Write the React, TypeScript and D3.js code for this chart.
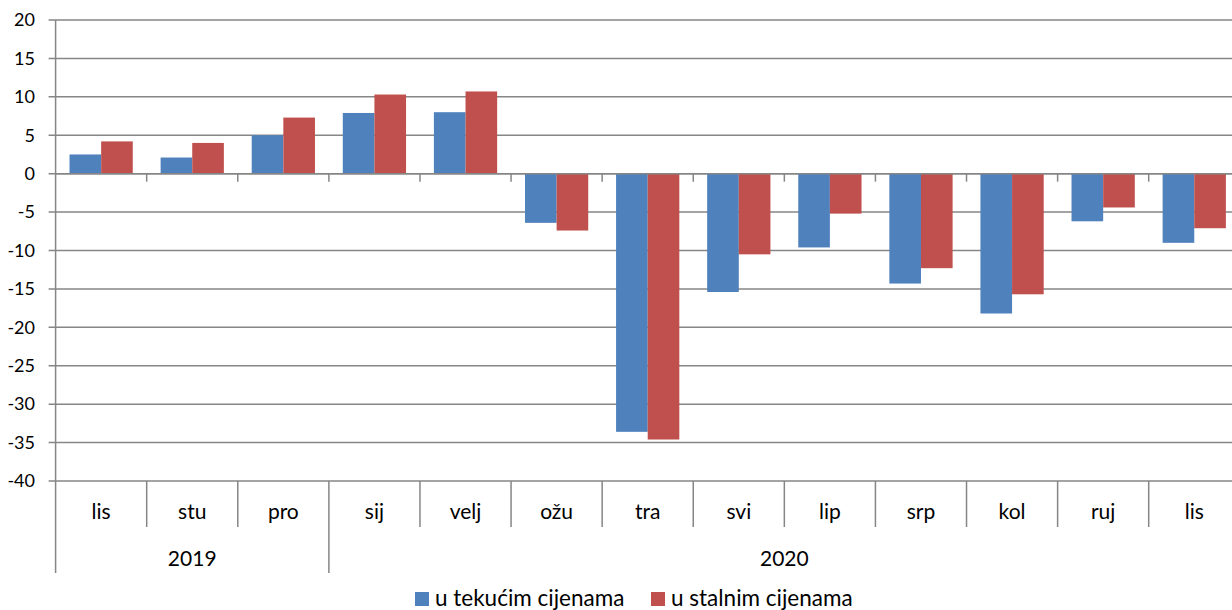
import React from "react";
import * as d3 from "d3";

const months = ["lis", "stu", "pro", "sij", "velj", "ožu", "tra", "svi", "lip", "srp", "kol", "ruj", "lis"];
const years = [
  { label: "2019", start: 0, end: 3 },
  { label: "2020", start: 3, end: 13 },
];
const seriesNames = ["u tekućim cijenama", "u stalnim cijenama"];
const seriesColors = ["#4F81BD", "#C0504D"];
const tekuce = [2.5, 2.1, 5.0, 7.9, 8.0, -6.4, -33.6, -15.4, -9.6, -14.3, -18.2, -6.2, -9.0];
const stalne = [4.2, 4.0, 7.3, 10.3, 10.7, -7.4, -34.6, -10.5, -5.2, -12.3, -15.7, -4.4, -7.1];
const yTicks = [20, 15, 10, 5, 0, -5, -10, -15, -20, -25, -30, -35, -40];

const W = 1232;
const H = 610;
const FONT = "Lato, 'Open Sans', sans-serif";
const GRID = "#868686";

export default function App() {
  const left = 55.6;
  const right = 1239.8;
  const top = 20;
  const bottom = 481;
  const x = d3.scaleBand<number>().domain(d3.range(months.length)).range([left, right]).paddingInner(0).paddingOuter(0);
  const bw = x.bandwidth();
  const x1 = d3.scaleBand<number>().domain([0, 1]).range([0, bw]).paddingInner(0).paddingOuter(0.44);
  const y = d3.scaleLinear().domain([-40, 20]).range([bottom, top]);
  const data = [tekuce, stalne];
  const boundary = (k: number) => left + k * bw;

  return (
    <svg width={W} height={H} style={{ position: "fixed", left: 0, top: 0, background: "#fff" }} fontFamily={FONT}>
      <rect x={0} y={0} width={W} height={H} fill="#fff" />
      {/* gridlines */}
      {yTicks.map((t) => (
        <g key={t}>
          <line x1={left - 7} x2={right} y1={y(t)} y2={y(t)} stroke={GRID} strokeWidth={1.5} />
          <text x={35} y={y(t)} dy="0.35em" textAnchor="end" fontSize={18} fill="#000">
            {t}
          </text>
        </g>
      ))}
      {/* bars */}
      {data.map((vals, si) =>
        vals.map((v, i) => {
          const x0 = (x(i) as number) + (x1(si) as number);
          const y0 = y(Math.max(0, v));
          const h = Math.abs(y(v) - y(0));
          return <rect key={`${si}-${i}`} x={x0} y={y0} width={x1.bandwidth()} height={h} fill={seriesColors[si]} />;
        })
      )}
      {/* zero line and its ticks */}
      <line x1={left} x2={right} y1={y(0)} y2={y(0)} stroke={GRID} strokeWidth={1.5} />
      {d3.range(1, months.length).map((k) => (
        <line key={k} x1={boundary(k)} x2={boundary(k)} y1={y(0)} y2={y(0) + 8} stroke={GRID} strokeWidth={1.5} />
      ))}
      {/* vertical axis */}
      <line x1={left} x2={left} y1={top} y2={573} stroke={GRID} strokeWidth={1.5} />
      {/* category separators */}
      {d3.range(1, months.length + 1).map((k) => {
        const isYear = years.some((yr) => yr.end === k);
        return (
          <line key={k} x1={boundary(k)} x2={boundary(k)} y1={bottom} y2={isYear ? 573 : 527} stroke={GRID} strokeWidth={1.5} />
        );
      })}
      {/* month labels */}
      {months.map((m, i) => (
        <text key={i} x={(x(i) as number) + bw / 2} y={519} textAnchor="middle" fontSize={21} fill="#000">
          {m}
        </text>
      ))}
      {/* year labels */}
      {years.map((yr) => (
        <text key={yr.label} x={(boundary(yr.start) + boundary(yr.end)) / 2} y={566} textAnchor="middle" fontSize={21} fill="#000">
          {yr.label}
        </text>
      ))}
      {/* legend */}
      {seriesNames.map((s, i) => {
        const lx = i === 0 ? 415 : 651;
        return (
          <g key={s}>
            <rect x={lx} y={592} width={14} height={14} fill={seriesColors[i]} />
            <text x={lx + 20} y={606} fontSize={22.5} fill="#000">
              {s}
            </text>
          </g>
        );
      })}
    </svg>
  );
}
